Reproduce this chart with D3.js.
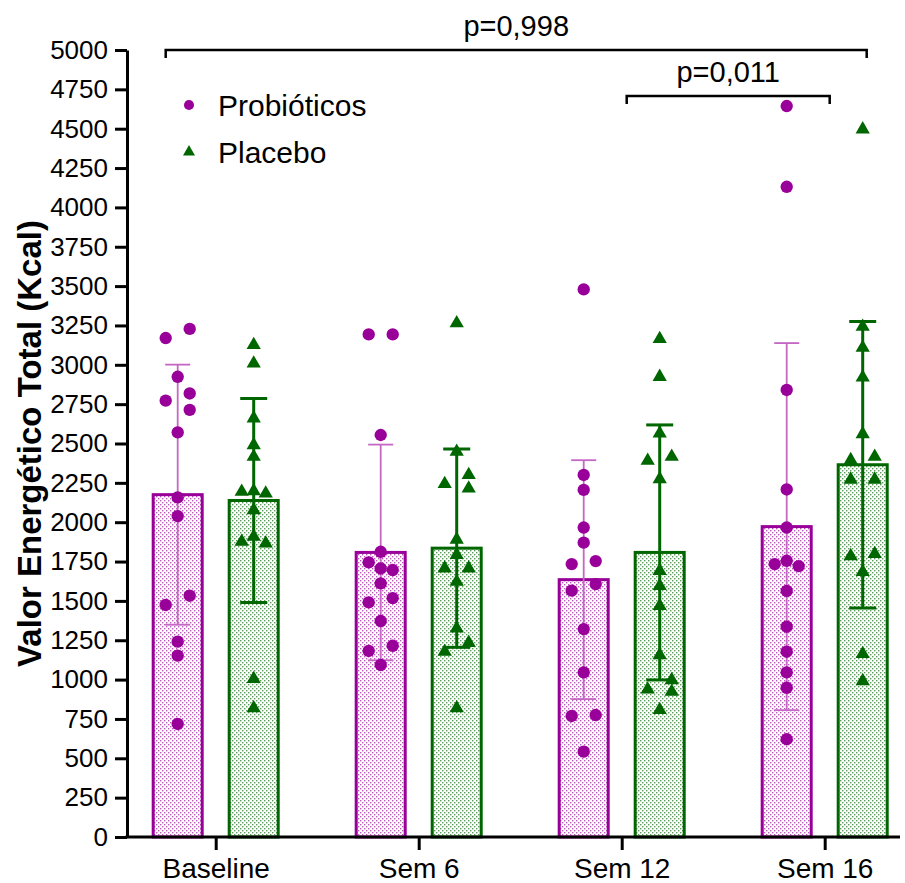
<!DOCTYPE html>
<html>
<head>
<meta charset="utf-8">
<script src="https://cdn.jsdelivr.net/npm/d3@7"></script>
<style>
  body { margin: 0; background: #fff; }
  text { font-family: 'Liberation Sans', Arial, sans-serif; }
</style>
</head>
<body>
<div id="chart"></div>
<script>
const categories = ['Baseline', 'Sem 6', 'Sem 12', 'Sem 16'];
const series = ['Probióticos', 'Placebo'];
const yTicks = d3.range(0, 5001, 250);

// group means and SD (bars + error bars)
const probMean = [2175, 1808, 1635, 1972];
const probSD = [826, 685, 759, 1166];
const placeboMean = [2138, 1835, 1808, 2365];
const placeboSD = [648, 630, 810, 910];

// individual values
const probPoints = [
  [3228, 3170, 2924, 2818, 2772, 2714, 2571, 2158, 2039, 1533, 1474, 1241, 1152, 718],
  [3193, 3193, 2554, 1812, 1745, 1706, 1696, 1611, 1518, 1491, 1372, 1215, 1182, 1093],
  [3479, 2300, 2205, 1966, 1870, 1753, 1734, 1607, 1565, 1321, 1046, 775, 769, 542],
  [4644, 4131, 2840, 2208, 1966, 1755, 1734, 1721, 1563, 1336, 1177, 1046, 948, 621]
];
const placeboPoints = [
  [3126, 3009, 2660, 2490, 2416, 2198, 2194, 2183, 2077, 1908, 1876, 1865, 1004, 818],
  [3264, 2448, 2300, 2243, 2215, 1890, 1792, 1707, 1707, 1622, 1325, 1234, 1177, 818],
  [3164, 2924, 2564, 2416, 2391, 2274, 1691, 1595, 1468, 1156, 997, 938, 923, 807],
  [4496, 3242, 3109, 2920, 2560, 2416, 2395, 2271, 2271, 1798, 1785, 1685, 1163, 991]
];

const comparisons = [
  { from: 'Baseline', to: 'Sem 16', label: 'p=0,998', level: 0 },
  { from: 'Sem 12', to: 'Sem 16', label: 'p=0,011', level: 1 }
];

const width = 905;
const height = 883;
const magenta = '#990099';
const magentaLight = '#c468c4';
const green = '#006600';

const svg = d3.select('#chart').append('svg')
  .attr('width', width)
  .attr('height', height);

const defs = svg.append('defs');
function dotPattern(id, color) {
  const p = defs.append('pattern')
    .attr('id', id)
    .attr('patternUnits', 'userSpaceOnUse')
    .attr('width', 4)
    .attr('height', 4);
  p.append('rect').attr('width', 4).attr('height', 4).attr('fill', '#fff');
  p.append('rect').attr('x', 0).attr('y', 0).attr('width', 1.4).attr('height', 1.4).attr('fill', color).attr('opacity', 0.65);
  p.append('rect').attr('x', 2).attr('y', 2).attr('width', 1.4).attr('height', 1.4).attr('fill', color).attr('opacity', 0.65);
}
dotPattern('dotsProb', magenta);
dotPattern('dotsPlac', green);

const axisX0 = 127;
const axisX1 = 900;

const y = d3.scaleLinear().domain([0, 5000]).range([837, 50]);
const x = d3.scalePoint().domain(categories).range([215.7, 824.7]);
const xs = d3.scaleBand().domain(series).range([-76, 76]).paddingInner(0.355).paddingOuter(0.1775);

const groups = [
  { name: 'Probióticos', mean: probMean, sd: probSD, points: probPoints, color: magenta,
    ebColor: magentaLight, ebWidth: 1.8, cap: 25, fill: 'url(#dotsProb)', symbol: d3.symbolCircle, size: 120, legendSize: 80 },
  { name: 'Placebo', mean: placeboMean, sd: placeboSD, points: placeboPoints, color: green,
    ebColor: green, ebWidth: 3, cap: 27, fill: 'url(#dotsPlac)', symbol: d3.symbolTriangle, size: 88, legendSize: 62 }
];

// simple swarm: chain points that are vertically close, then give them side slots
const gapPx = 11.2;
const slotPx = 12;
function swarm(vals) {
  const order = vals.map((v, i) => i).sort((a, b) => vals[b] - vals[a]);
  const slot = new Array(vals.length).fill(0);
  const chains = [];
  let cur = null, prevY = null;
  order.forEach(i => {
    const yy = y(vals[i]);
    if (prevY === null || yy - prevY >= gapPx) { cur = []; chains.push(cur); }
    prevY = yy;
    cur.push(i);
  });
  chains.forEach(ch => {
    const placed = [];
    ch.forEach(i => {
      for (const s of [0, -1, 1, -2, 2, -3, 3]) {
        const hit = placed.some(j => slot[j] === s && Math.abs(y(vals[j]) - y(vals[i])) < gapPx);
        if (!hit) { slot[i] = s; placed.push(i); break; }
      }
    });
    const used = new Set(ch.map(i => slot[i]));
    if (used.size === 2 && used.has(0) && used.has(-1)) {
      ch.forEach(i => { if (slot[i] === 0) slot[i] = 1; });
    }
  });
  return slot;
}

// bars
groups.forEach(g => {
  svg.append('g').selectAll('rect')
    .data(categories)
    .join('rect')
    .attr('x', (c) => x(c) + xs(g.name))
    .attr('y', (c, i) => y(g.mean[i]))
    .attr('width', xs.bandwidth())
    .attr('height', (c, i) => y(0) - y(g.mean[i]))
    .attr('fill', g.fill)
    .attr('stroke', g.color)
    .attr('stroke-width', 3);
});

// error bars
groups.forEach(g => {
  const eb = svg.append('g')
    .attr('stroke', g.ebColor)
    .attr('stroke-width', g.ebWidth)
    .selectAll('g')
    .data(categories)
    .join('g')
    .attr('transform', (c) => `translate(${x(c) + xs(g.name) + xs.bandwidth() / 2},0)`);
  eb.append('line')
    .attr('y1', (c, i) => y(g.mean[i] + g.sd[i]))
    .attr('y2', (c, i) => y(g.mean[i] - g.sd[i]));
  eb.append('line')
    .attr('x1', -g.cap / 2).attr('x2', g.cap / 2)
    .attr('y1', (c, i) => y(g.mean[i] + g.sd[i]))
    .attr('y2', (c, i) => y(g.mean[i] + g.sd[i]));
  eb.append('line')
    .attr('x1', -g.cap / 2).attr('x2', g.cap / 2)
    .attr('y1', (c, i) => y(g.mean[i] - g.sd[i]))
    .attr('y2', (c, i) => y(g.mean[i] - g.sd[i]));
});

// individual points
groups.forEach(g => {
  const sym = d3.symbol().type(g.symbol).size(g.size);
  categories.forEach((c, ci) => {
    const vals = g.points[ci];
    const slots = swarm(vals);
    const cx = x(c) + xs(g.name) + xs.bandwidth() / 2;
    svg.append('g').selectAll('path')
      .data(vals)
      .join('path')
      .attr('d', sym)
      .attr('fill', g.color)
      .attr('transform', (d, i) => `translate(${cx + slots[i] * slotPx},${y(d)})`);
  });
});

// axes
const yAxis = d3.axisLeft(y).tickValues(yTicks).tickFormat(d3.format('d'))
  .tickSize(12).tickSizeOuter(0).tickPadding(7);
const yg = svg.append('g')
  .attr('transform', `translate(${axisX0},0)`)
  .call(yAxis);
yg.selectAll('text').style('font-size', '26px').attr('fill', '#000');

const xAxis = d3.axisBottom(x).tickSize(13).tickSizeOuter(0).tickPadding(8);
const xg = svg.append('g')
  .attr('transform', `translate(0,${y(0)})`)
  .call(xAxis);
xg.select('.domain').remove();
xg.append('line')
  .attr('x1', axisX0 - 1.5).attr('x2', axisX1)
  .attr('stroke', '#000');
xg.selectAll('text').style('font-size', '28px').attr('fill', '#000');

[yg, xg].forEach(a => {
  a.selectAll('path, line').attr('stroke', '#000').attr('stroke-width', 3);
});

// y title
svg.append('text')
  .attr('transform', `translate(41,${(y(0) + y(5000)) / 2}) rotate(-90)`)
  .attr('text-anchor', 'middle')
  .style('font-size', '33px')
  .style('font-weight', 'bold')
  .text('Valor Energético Total (Kcal)');

// significance brackets
const bracketY = [50, 96];
comparisons.forEach(cmp => {
  const x1 = cmp.level === 0 ? x(cmp.from) - 50 : x(cmp.from) + 5;
  const x2 = cmp.level === 0 ? x(cmp.to) + 42 : x(cmp.to) + 5;
  const by = bracketY[cmp.level];
  svg.append('path')
    .attr('d', `M${x1},${by + 8}V${by}H${x2}V${by + 8}`)
    .attr('fill', 'none')
    .attr('stroke', '#000')
    .attr('stroke-width', 2.5);
  svg.append('text')
    .attr('x', (x1 + x2) / 2)
    .attr('y', by - 14)
    .attr('text-anchor', 'middle')
    .style('font-size', '29px')
    .text(cmp.label);
});

// legend
const legend = svg.append('g').attr('transform', 'translate(189,105)');
groups.forEach((g, i) => {
  const row = legend.append('g').attr('transform', `translate(0,${i * 47})`);
  row.append('path')
    .attr('d', d3.symbol().type(g.symbol).size(g.legendSize))
    .attr('fill', g.color);
  row.append('text')
    .attr('x', 29)
    .attr('dy', '0.35em')
    .style('font-size', '30px')
    .text(g.name);
});
</script>
</body>
</html>
